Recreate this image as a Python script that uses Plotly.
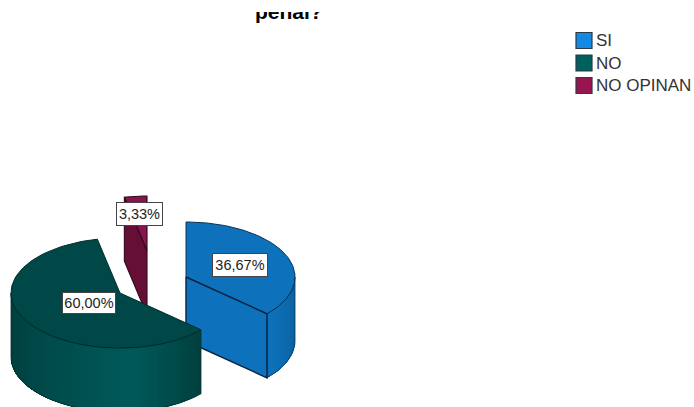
import math
import plotly.graph_objects as go

# ---- data ----
categories = ["SI", "NO", "NO OPINAN"]
percentages = [36.67, 60.00, 3.33]
value_labels = ["36,67%", "60,00%", "3,33%"]
title_text = "penal?"

# ---- styles / geometry ----
RX, RY, DEPTH = 109, 55, 64
apex_points = [(186, 277), (120, 293), (147, 251)]
top_colors = ["#0d72bb", "#004847", "#87144d"]
cut_colors = ["#0d72bb", "#004847", "#650f36"]
edge_colors = ["#0a3256", "#002c2c", "#2e0a1e"]
legend_colors = ["#1389e2", "#005f5f", "#99154f"]
label_boxes = [(240, 265, 56, 24), (89, 303, 54, 22), (139.5, 214, 47, 24)]


def arc(apex, t0, t1, drop=0, n=90):
    pts = []
    for i in range(n + 1):
        t = math.radians(t0 + (t1 - t0) * i / n)
        pts.append((apex[0] + RX * math.sin(t), apex[1] - RY * math.cos(t) + drop))
    return pts


def poly(fig, pts, fill, line=None, width=1.0):
    xs = [p[0] for p in pts] + [pts[0][0]]
    ys = [p[1] for p in pts] + [pts[0][1]]
    fig.add_trace(go.Scatter(x=xs, y=ys, mode="lines", fill="toself", fillcolor=fill,
                             line=dict(color=line or fill, width=width),
                             hoverinfo="skip", showlegend=False))


def mix(a, b, f):
    ca = [int(a[i:i + 2], 16) for i in (1, 3, 5)]
    cb = [int(b[i:i + 2], 16) for i in (1, 3, 5)]
    return "#%02x%02x%02x" % tuple(round(x + (y - x) * f) for x, y in zip(ca, cb))


def wall(fig, apex, t0, t1, shade, steps=36):
    # painter's order: each band covers everything left to the far end, so no seams show
    for i in range(steps):
        a = t0 + (t1 - t0) * i / steps
        poly(fig, arc(apex, a, t1, 0, 24) + arc(apex, t1, a, DEPTH, 24), shade(i / (steps - 1)), None, 0)


fig = go.Figure()

# slice angular extents come from the values, clockwise from the top
starts, acc = [], 0.0
for v in percentages:
    starts.append(acc)
    acc += v * 3.6
ends = [s + v * 3.6 for s, v in zip(starts, percentages)]

# NO OPINAN (back slice)
ap = apex_points[2]
s, e = starts[2], ends[2]
poly(fig, [ap] + arc(ap, s, e, 0, 12), top_colors[2], edge_colors[2], 1.1)
front = arc(ap, s, s, 0, 1)[0]
poly(fig, [ap, front, (front[0], front[1] + DEPTH), (ap[0], ap[1] + DEPTH)], cut_colors[2], edge_colors[2], 1.1)

# SI
ap = apex_points[0]
s, e = starts[0], ends[0]
wall(fig, ap, 90, e, lambda f: mix("#0a5f9e", "#0d72ba", f), 14)
poly(fig, arc(ap, 90, e, 0, 20) + arc(ap, e, 90, DEPTH, 20), "rgba(0,0,0,0)", edge_colors[0], 0.8)
poly(fig, [ap] + arc(ap, s, e), top_colors[0], edge_colors[0], 1.0)
edge = arc(ap, e, e, 0, 1)[0]
poly(fig, [ap, edge, (edge[0], edge[1] + DEPTH), (ap[0], ap[1] + DEPTH)], cut_colors[0], "#07233e", 1.4)

# NO
ap = apex_points[1]
s, e = starts[1], ends[1]


def green_shade(f):
    # f runs from the right end of the wall to the left end
    peak = 0.3
    if f < peak:
        return mix("#004040", "#005959", f / peak)
    return mix("#005959", "#003d3d", (f - peak) / (1 - peak))


wall(fig, ap, s, 270, green_shade, 40)
poly(fig, arc(ap, s, 270, 0, 50) + arc(ap, 270, s, DEPTH, 50), "rgba(0,0,0,0)", "#003030", 0.8)
poly(fig, [ap] + arc(ap, s, e), top_colors[1], edge_colors[1], 1.0)

annotations = []
# value labels
for text, (x, y, w, h) in zip(value_labels, label_boxes):
    annotations.append(dict(x=x, y=y, xref="x", yref="y", text=text, showarrow=False,
                            width=w - 2, height=h - 2, bgcolor="#ffffff", bordercolor="#444444",
                            borderwidth=1, borderpad=0,
                            font=dict(family="Liberation Sans", size=14.5, color="#222222")))

# title, cut off at the top of the frame, then the mask that cuts it
annotations.append(dict(x=288.5, y=25, xref="x", yref="y", text=f"<b>{title_text}</b>", showarrow=False,
                        yanchor="bottom", xanchor="center",
                        font=dict(family="Liberation Sans", size=21, color="#000000")))
annotations.append(dict(x=0, y=0, xref="x", yref="y", text=" ", showarrow=False, xanchor="left", yanchor="top",
                        width=694, height=12, bgcolor="#ffffff", borderpad=0, borderwidth=0))

# legend
shapes = []
for i, (name, col) in enumerate(zip(categories, legend_colors)):
    cy = 40.5 + 22.5 * i
    shapes.append(dict(type="rect", xref="x", yref="y", x0=576, x1=592, y0=cy - 8, y1=cy + 8,
                       fillcolor=col, line=dict(color="#2b3a44", width=1.2)))
    annotations.append(dict(x=594, y=cy, xref="x", yref="y", text=name, showarrow=False, xanchor="left",
                            yanchor="middle", font=dict(family="Liberation Sans", size=17, color="#333333")))

fig.update_layout(
    width=694, height=407, margin=dict(l=0, r=0, t=0, b=0),
    paper_bgcolor="#ffffff", plot_bgcolor="#ffffff", showlegend=False,
    xaxis=dict(range=[0, 694], visible=False, fixedrange=True),
    yaxis=dict(range=[407, 0], visible=False, fixedrange=True),
    annotations=annotations, shapes=shapes,
)

fig.write_html("out.html", config={"displayModeBar": False},
               post_script="document.body.style.margin='0';document.documentElement.style.overflow='hidden';")
